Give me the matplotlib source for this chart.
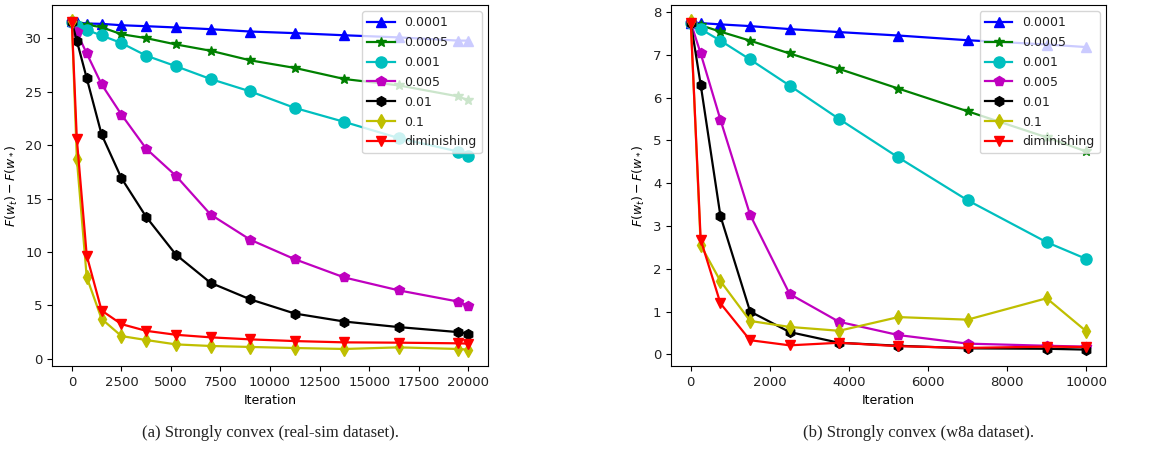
import matplotlib
matplotlib.use("Agg")
import matplotlib.pyplot as plt

# ---- Data: real-sim ----
iters_a = [0, 250, 750, 1500, 2500, 3750, 5250, 7000, 9000, 11250, 13750, 16500, 19500, 20000]
a_00001 = [31.6, 31.5, 31.4, 31.37, 31.24, 31.15, 31.03, 30.87, 30.65, 30.5, 30.3, 30.1, 29.8, 29.8]
a_00005 = [31.5, 31.4, 31.3, 31.05, 30.4, 30.03, 29.44, 28.85, 27.95, 27.24, 26.2, 25.6, 24.57, 24.2]
a_0001 = [31.5, 31.2, 30.8, 30.28, 29.57, 28.39, 27.4, 26.2, 25.04, 23.49, 22.18, 20.66, 19.4, 18.96]
a_0005 = [31.5, 30.56, 28.6, 25.7, 22.87, 19.67, 17.13, 13.5, 11.14, 9.31, 7.6, 6.39, 5.34, 4.96]
a_001 = [31.5, 29.79, 26.28, 21.0, 16.91, 13.28, 9.74, 7.1, 5.55, 4.22, 3.47, 2.95, 2.48, 2.33]
a_01 = [31.6, 18.74, 7.63, 3.72, 2.11, 1.74, 1.33, 1.18, 1.09, 0.99, 0.9, 1.05, 0.9, 0.84]
a_dim = [31.5, 20.6, 9.65, 4.5, 3.23, 2.6, 2.23, 1.99, 1.8, 1.64, 1.52, 1.49, 1.43, 1.4]

# ---- Data: w8a ----
iters_b = [0, 250, 750, 1500, 2500, 3750, 5250, 7000, 9000, 10000]
b_00001 = [7.75, 7.74, 7.71, 7.67, 7.6, 7.53, 7.45, 7.34, 7.24, 7.18]
b_00005 = [7.75, 7.69, 7.54, 7.33, 7.03, 6.67, 6.21, 5.68, 5.07, 4.74]
b_0001 = [7.75, 7.6, 7.33, 6.89, 6.28, 5.5, 4.6, 3.6, 2.62, 2.23]
b_0005 = [7.75, 7.03, 5.48, 3.26, 1.41, 0.76, 0.45, 0.25, 0.2, 0.18]
b_001 = [7.75, 6.3, 3.23, 1.0, 0.52, 0.27, 0.2, 0.14, 0.13, 0.11]
b_01 = [7.78, 2.55, 1.71, 0.78, 0.64, 0.55, 0.87, 0.81, 1.31, 0.54]
b_dim = [7.75, 2.68, 1.19, 0.33, 0.21, 0.27, 0.19, 0.15, 0.18, 0.17]

labels = ["0.0001", "0.0005", "0.001", "0.005", "0.01", "0.1", "diminishing"]
styles = [("b", "^", 7), ("g", "*", 7), ("c", "o", 8), ("m", "p", 7),
          ("k", "h", 7), ("y", "d", 7), ("r", "v", 7)]

plt.rcParams["font.size"] = 9.5
plt.rcParams["text.color"] = "#222222"
plt.rcParams["xtick.labelcolor"] = "#222222"
plt.rcParams["ytick.labelcolor"] = "#222222"

fig = plt.figure(figsize=(11.67, 4.53), dpi=100)
ax1 = fig.add_axes([0.0446, 0.192, 0.3736, 0.797])
ax2 = fig.add_axes([0.575, 0.192, 0.3727, 0.797])

for ax, x, series in [
    (ax1, iters_a, [a_00001, a_00005, a_0001, a_0005, a_001, a_01, a_dim]),
    (ax2, iters_b, [b_00001, b_00005, b_0001, b_0005, b_001, b_01, b_dim]),
]:
    for y, lab, (c, m, ms) in zip(series, labels, styles):
        ax.plot(x, y, color=c, marker=m, markersize=ms, linewidth=1.6, label=lab)
    ax.set_xlabel("Iteration", fontsize=9)
    ax.set_ylabel(r"$F(w_t) - F(w_*)$", fontsize=9)
    ax.legend(loc="upper right", fontsize=9, handlelength=2.2, labelspacing=0.55)

ax1.set_xticks([0, 2500, 5000, 7500, 10000, 12500, 15000, 17500, 20000])
ax2.set_xticks([0, 2000, 4000, 6000, 8000, 10000])

fig.text(0.232, 0.045, "(a) Strongly convex (real-sim dataset).",
         family="Liberation Serif", fontsize=12, ha="center", va="center")
fig.text(0.787, 0.045, "(b) Strongly convex (w8a dataset).",
         family="Liberation Serif", fontsize=12, ha="center", va="center")

fig.savefig("out.png", dpi=100)
